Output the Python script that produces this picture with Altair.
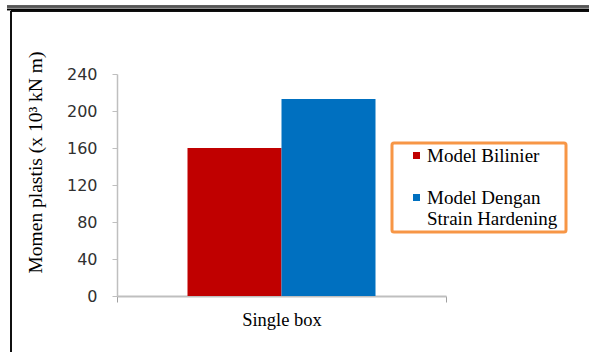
import altair as alt
import pandas as pd

# Plastic moment for a single-box section, two material models
categories = ["Single box"]
series = ["Model Bilinier", "Model Dengan|Strain  Hardening"]
values = [160, 213]
colors = ["#C00000", "#0070C0"]

y_ticks = [0, 40, 80, 120, 160, 200, 240]
y_title = "Momen plastis (x 10³ kN m)"

df = pd.DataFrame({
    "kategori": [categories[0]] * len(series),
    "model": series,
    "momen": values,
})

SERIF = "Liberation Serif"
AXIS_GREY = "#BFBFBF"

bars = alt.Chart(df).mark_bar(stroke=None).encode(
    x=alt.X(
        "kategori:N",
        scale=alt.Scale(paddingInner=0, paddingOuter=0),
        axis=alt.Axis(
            title=None,
            labelAngle=0,
            labelFont=SERIF,
            labelFontSize=18.5,
            labelColor="#000000",
            labelPadding=8,
            tickBand="extent",
            tickSize=6,
            tickColor="#A0A0A0",
            domainColor=AXIS_GREY,
            domainWidth=2,
        ),
    ),
    xOffset=alt.XOffset(
        "model:N",
        sort=series,
        scale=alt.Scale(paddingInner=0, paddingOuter=0.75),
    ),
    y=alt.Y(
        "momen:Q",
        scale=alt.Scale(domain=[0, 240], nice=False),
        axis=alt.Axis(
            title=y_title,
            values=y_ticks,
            grid=False,
            labelFont="DejaVu Sans",
            labelFontSize=16,
            labelColor="#303030",
            labelPadding=15,
            tickSize=5,
            tickColor=AXIS_GREY,
            domainColor=AXIS_GREY,
            domainWidth=1.5,
            titleFont=SERIF,
            titleFontSize=19.5,
            titleFontWeight="normal",
            titleColor="#000000",
            titleAngle=270,
            titleX=-82,
            titleY=88,
            titleAlign="center",
            titleBaseline="middle",
        ),
    ),
    color=alt.Color(
        "model:N",
        sort=series,
        scale=alt.Scale(domain=series, range=colors),
        legend=alt.Legend(
            title=None,
            orient="none",
            legendX=275,
            legendY=69,
            strokeColor="#F79646",
            cornerRadius=2,
            padding=3,
            symbolType="square",
            symbolSize=49,
            symbolOffset=12,
            symbolStrokeWidth=0,
            labelOffset=1,
            labelFont=SERIF,
            labelFontSize=19,
            labelColor="#000000",
            labelLimit=300,
            rowPadding=22,
            labelExpr="split(datum.label, '|')",
        ),
    ),
)

# Page frame: double rule along the top, box edge on the left and top
frame = [
    alt.Chart(df).mark_rule(color="#555555", strokeWidth=2.5).encode(
        x=alt.value(-110), x2=alt.value(480), y=alt.value(-67.5)),
    alt.Chart(df).mark_rule(color="#000000", strokeWidth=1.5).encode(
        x=alt.value(-110), x2=alt.value(480), y=alt.value(-64.5)),
    alt.Chart(df).mark_rule(color="#000000", strokeWidth=1.5).encode(
        x=alt.value(-106), x2=alt.value(480), y=alt.value(-63)),
    alt.Chart(df).mark_rule(color="#000000", strokeWidth=1.5).encode(
        x=alt.value(-106), y=alt.value(-63), y2=alt.value(290)),
]

chart = alt.layer(bars, *frame).properties(
    width=329,
    height=222,
    autosize=alt.AutoSizeParams(type="none"),
    padding={"left": 117, "top": 74, "right": 143, "bottom": 56},
    background="#FFFFFF",
).configure_view(stroke=None).configure_legend(strokeWidth=3)

chart.save("out.html", embed_options={"renderer": "svg", "actions": False})
